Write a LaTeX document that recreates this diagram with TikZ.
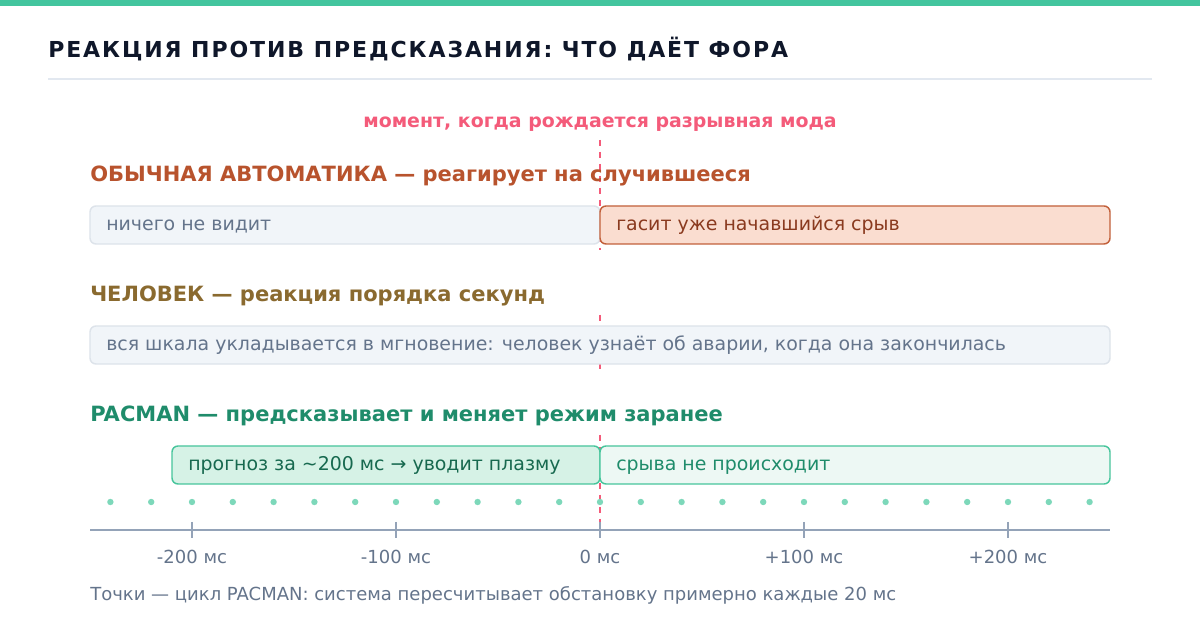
\documentclass[tikz,border=0pt]{standalone}
\usepackage{fontspec}
\setmainfont{DejaVu Sans}
\usetikzlibrary{positioning}

\definecolor{topgreen}{RGB}{67,197,158}
\definecolor{titlec}{RGB}{15,23,42}
\definecolor{rulec}{RGB}{226,232,240}
\definecolor{eventc}{RGB}{244,91,122}
\definecolor{autoc}{RGB}{184,83,45}
\definecolor{autofill}{RGB}{250,221,208}
\definecolor{autoline}{RGB}{194,96,58}
\definecolor{autotext}{RGB}{138,58,31}
\definecolor{greyfill}{RGB}{241,245,249}
\definecolor{greyline}{RGB}{221,227,234}
\definecolor{greytext}{RGB}{100,116,139}
\definecolor{humanc}{RGB}{138,106,47}
\definecolor{pacc}{RGB}{31,140,107}
\definecolor{pacfill}{RGB}{214,242,230}
\definecolor{pacfilltwo}{RGB}{237,248,244}
\definecolor{pacline}{RGB}{71,197,156}
\definecolor{pactext}{RGB}{23,105,79}
\definecolor{dotc}{RGB}{125,216,186}
\definecolor{axisc}{RGB}{148,163,184}

\tikzset{
  heading/.style={anchor=base west, inner sep=0pt, font=\fontsize{15.75}{18}\selectfont\bfseries},
  bartext/.style={anchor=base west, inner sep=0pt, font=\fontsize{14.2}{16}\selectfont},
  greybar/.style={rounded corners=4.5pt, fill=greyfill, draw=greyline, line width=1.1pt},
  autobar/.style={rounded corners=4.5pt, fill=autofill, draw=autoline, line width=1.1pt},
  pacbar/.style={rounded corners=4.5pt, fill=pacfill, draw=pacline, line width=1.1pt},
  pacbartwo/.style={rounded corners=4.5pt, fill=pacfilltwo, draw=pacline, line width=1.1pt},
  eventline/.style={draw=eventc, line width=1.5pt, dash pattern=on 4.5pt off 4.5pt},
  ticklabel/.style={anchor=base, inner sep=0pt, text=greytext, font=\fontsize{13.5}{16}\selectfont},
}

\begin{document}
\begin{tikzpicture}[x=0.75pt, y=-0.75pt]
	\useasboundingbox (0,0) rectangle (1200,630);
	\fill[white] (0,0) rectangle (1200,630);
	
	%Header
	\fill[topgreen] (0,0) rectangle (1200,6);
	\node[anchor=base west, inner sep=0pt, text=titlec, font=\fontsize{16.5}{19}\selectfont\bfseries\addfontfeatures{LetterSpace=8.7}] (T) at (48,58) {РЕАКЦИЯ ПРОТИВ ПРЕДСКАЗАНИЯ: ЧТО ДАЁТ ФОРА};
	\draw[rulec, line width=1.5pt] (48,79) -- (1152,79);
	
	%Event moment
	\node[anchor=base, inner sep=0pt, text=eventc, font=\fontsize{14.2}{16}\selectfont\bfseries] (M) at (600,128) {момент, когда рождается разрывная мода};
	\draw[eventline] (600,140) -- (600,250);
	\draw[eventline] (600,315) -- (600,370);
	\draw[eventline] (600,435) -- (600,530);
	
	%Conventional automatics
	\node[heading, text=autoc] (A0) at (90,182) {ОБЫЧНАЯ АВТОМАТИКА — реагирует на случившееся};
	\draw[greybar] (90,206) rectangle (600,244);
	\node[bartext, text=greytext] (A1) at (106,231) {ничего не видит};
	\draw[autobar] (600,206) rectangle (1110,244);
	\node[bartext, text=autotext] (A2) at (616,231) {гасит уже начавшийся срыв};
	
	%Human
	\node[heading, text=humanc] (B0) at (90,302) {ЧЕЛОВЕК — реакция порядка секунд};
	\draw[greybar] (90,326) rectangle (1110,364);
	\node[bartext, text=greytext] (B1) at (106,351) {вся шкала укладывается в мгновение: человек узнаёт об аварии, когда она закончилась};
	
	%PACMAN
	\node[heading, text=pacc] (C0) at (90,422) {PACMAN — предсказывает и меняет режим заранее};
	\draw[pacbar] (172,446) rectangle (600,484);
	\node[bartext, text=pactext] (C1) at (188,471) {прогноз за \textasciitilde200 мс → уводит плазму};
	\draw[pacbartwo] (600,446) rectangle (1110,484);
	\node[bartext, text=pacc] (C2) at (616,471) {срыва не происходит};
	
	%Cycle dots and time axis
	\foreach \t in {-240,-220,...,240}
		\fill[dotc] (600+\t*2.04,502) circle (2.4pt);
	\draw[axisc, line width=1.5pt] (90,530) -- (1110,530);
	\foreach \t/\lab in {-200/-200 мс, -100/-100 мс, 0/0 мс, 100/+100 мс, 200/+200 мс} {
		\draw[axisc, line width=1.1pt] (600+\t*2.04,522) -- (600+\t*2.04,538);
		\node[ticklabel] (L\t) at (600+\t*2.04,564) {\lab};
	}
	\node[anchor=base west, inner sep=0pt, text=greytext, font=\fontsize{13.5}{16}\selectfont] (N) at (90,600) {Точки — цикл PACMAN: система пересчитывает обстановку примерно каждые 20 мс};
	
\end{tikzpicture}
\end{document}
